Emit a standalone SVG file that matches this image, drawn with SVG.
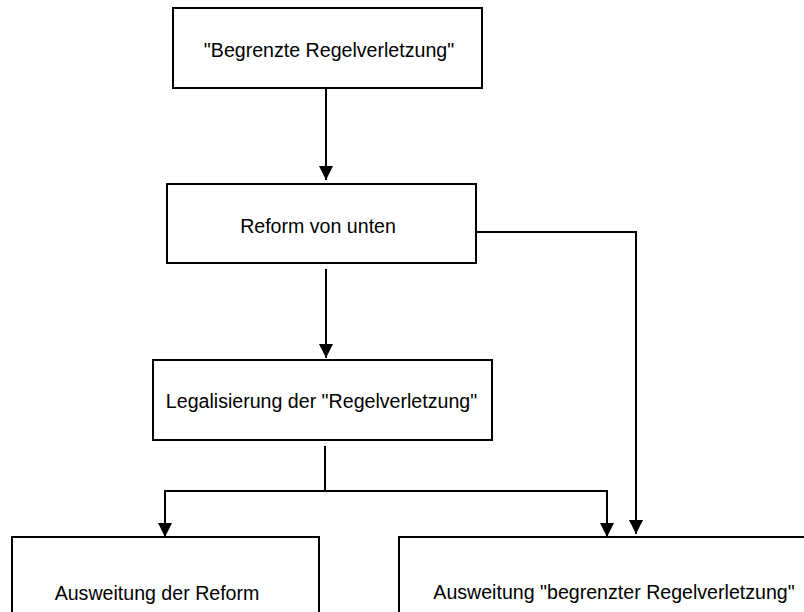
<svg xmlns="http://www.w3.org/2000/svg" width="804" height="612" viewBox="0 0 804 612">
<style>
.box{fill:#fff;stroke:#000;stroke-width:2}
.lbl{font-family:"Liberation Sans",Arial,sans-serif;font-size:19.6px;fill:#000;text-anchor:middle}
.conn{fill:none;stroke:#000;stroke-width:2}
</style>
<defs>
<marker id="ah" markerWidth="14" markerHeight="14" refX="14" refY="7" orient="auto" markerUnits="userSpaceOnUse">
<path d="M0,0 L14,7 L0,14 Z" fill="#000"/>
</marker>
</defs>
<rect width="804" height="612" fill="#fff"/>
<g id="n1"><rect class="box" x="173" y="8" width="309" height="80"/><text class="lbl" x="329" y="57">"Begrenzte Regelverletzung"</text></g>
<g id="n2"><rect class="box" x="167" y="184" width="309" height="79"/><text class="lbl" x="318" y="233">Reform von unten</text></g>
<g id="n3"><rect class="box" x="153" y="360" width="339" height="80"/><text class="lbl" x="321.5" y="408">Legalisierung der "Regelverletzung"</text></g>
<g id="n4"><rect class="box" x="12" y="537" width="307" height="90"/><text class="lbl" x="157" y="600">Ausweitung der Reform</text></g>
<g id="n5"><rect class="box" x="399" y="537" width="420" height="90"/><text class="lbl" x="614" y="599">Ausweitung "begrenzter Regelverletzung"</text></g>
<g id="connectors">
<path class="conn" d="M326,88 V180" marker-end="url(#ah)"/>
<path class="conn" d="M326,269 V358" marker-end="url(#ah)"/>
<path class="conn" d="M476,232 H636 V534" marker-end="url(#ah)"/>
<path class="conn" d="M325,446 V491"/>
<path class="conn" d="M325,491 H165 V537" marker-end="url(#ah)"/>
<path class="conn" d="M325,491 H607 V537" marker-end="url(#ah)"/>
</g>
</svg>
